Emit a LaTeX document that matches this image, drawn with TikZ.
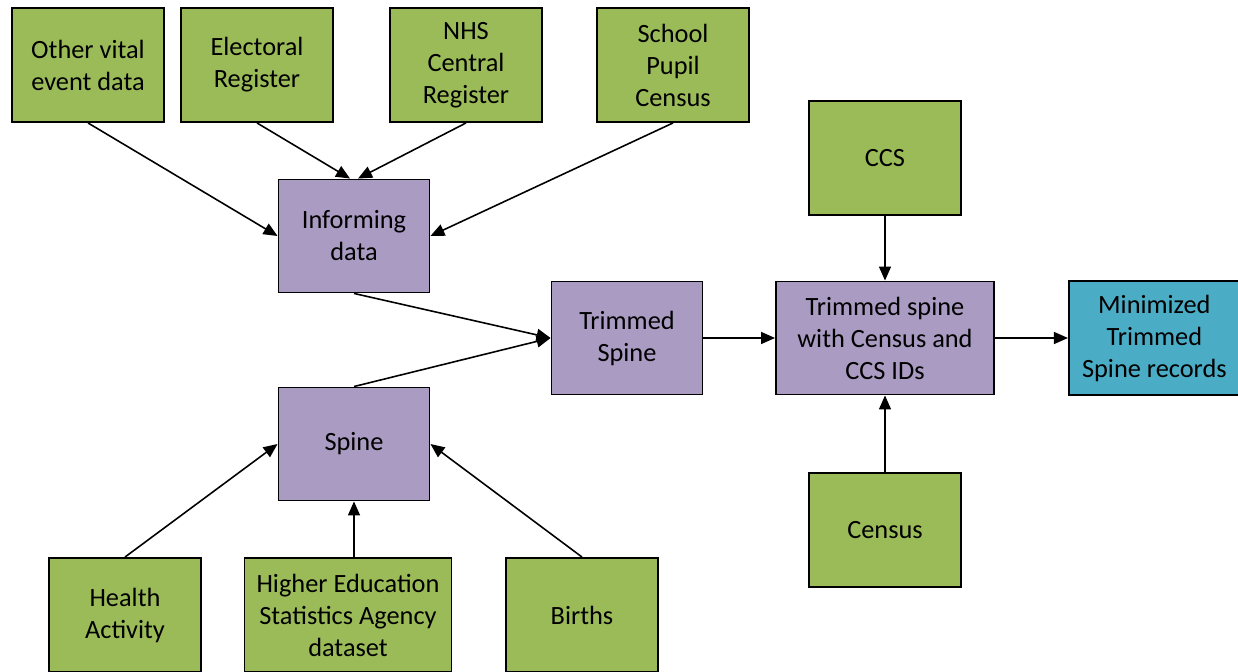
\documentclass[tikz,border=0pt]{standalone}
\usepackage{fontspec}
\setmainfont{Carlito}
\usepackage{tikz}
\usetikzlibrary{arrows.meta, positioning}
\definecolor{srcgreen}{HTML}{9BBB59}
\definecolor{procpurple}{HTML}{A99BC1}
\definecolor{outblue}{HTML}{4BACC6}

\begin{document}
\begin{tikzpicture}[x=0.02cm, y=-0.02cm,
  every node/.style={font=\fontsize{15}{18.2}\selectfont},
  source/.style={rectangle, minimum width=3.04cm, minimum height=2.28cm,
    text centered, align=center, draw=black, line width=1.1pt, fill=srcgreen},
  process/.style={rectangle, minimum width=3.02cm, minimum height=2.26cm,
    text centered, align=center, draw=black, line width=1.1pt, fill=procpurple},
  output/.style={rectangle, minimum width=3.42cm, minimum height=2.28cm,
    text centered, align=center, draw=black, line width=1.1pt, fill=outblue},
  arrow/.style={line width=0.9pt, -{Triangle[length=2.8mm, width=2.4mm]}}]

\useasboundingbox (0,0) rectangle (1238,672);

% sources feeding the informing data
\node (vital) [source] at (88,65) {Other vital\\event data};
\node (elect) [source] at (257,65) {Electoral\\Register};
\node (nhs) [source] at (466,65) {NHS\\Central\\Register};
\node (school) [source] at (673,65) {School\\Pupil\\Census};

\node (inform) [process] at (354,236) {Informing\\data};
\node (spine) [process] at (354,444) {Spine};
\node (tspine) [process] at (627,338) {Trimmed\\Spine};

% sources feeding the spine
\node (health) [source] at (125,615) {Health\\Activity};
\node (hesa) [source, minimum width=4.14cm] at (348,615)
  {Higher Education\\Statistics Agency\\dataset};
\node (births) [source] at (582,615) {Births};

% census side
\node (tcensus) [process, minimum width=4.36cm] at (885,338)
  {Trimmed spine\\with Census and\\CCS IDs};
\node (ccs) [source, above=1.3cm of tcensus] {CCS};
\node (census) [source, below=1.54cm of tcensus] {Census};
\node (minim) [output, right=1.46cm of tcensus] {Minimized\\Trimmed\\Spine records};

\draw [arrow] (vital.south) -- (inform.west);
\draw [arrow] (elect.south) -- ([xshift=-0.08cm]inform.north);
\draw [arrow] (nhs.south) -- ([xshift=0.08cm]inform.north);
\draw [arrow] (school.south) -- (inform.east);
\draw [arrow] (inform.south) -- (tspine.west);
\draw [arrow] (spine.north) -- (tspine.west);
\draw [arrow] (health.north) -- (spine.west);
\draw [arrow] (hesa.north -| spine.south) -- (spine.south);
\draw [arrow] (births.north) -- (spine.east);
\draw [arrow] (tspine) -- (tcensus);
\draw [arrow] (ccs) -- (tcensus);
\draw [arrow] (census) -- (tcensus);
\draw [arrow] (tcensus) -- (minim);

\end{tikzpicture}
\end{document}
